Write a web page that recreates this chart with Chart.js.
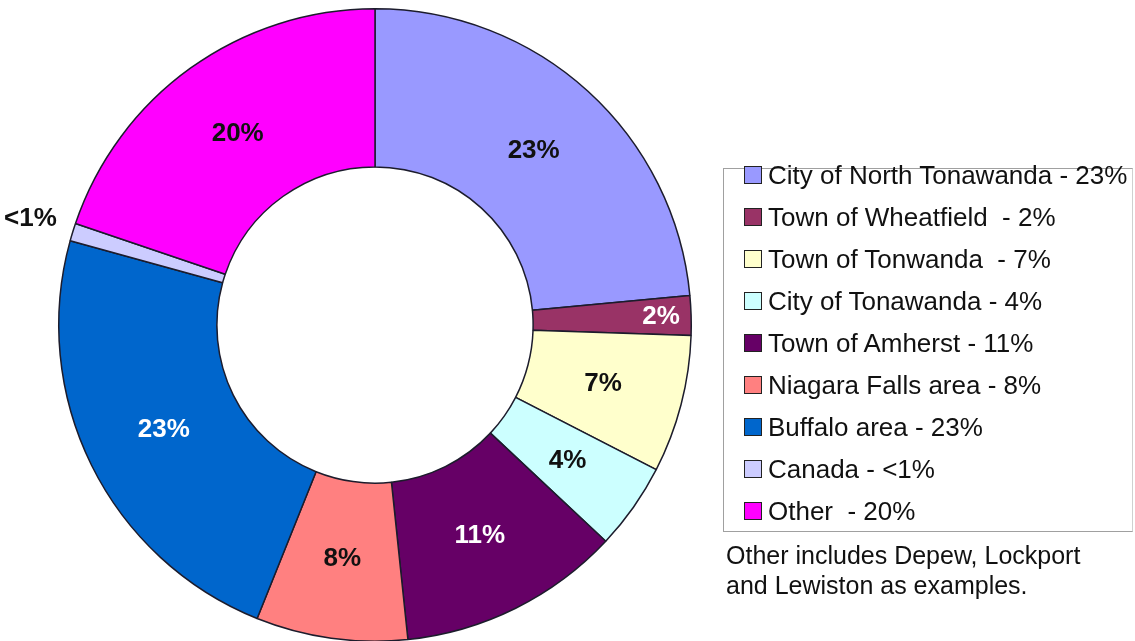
<!DOCTYPE html>
<html>
<head>
<meta charset="utf-8">
<title>Visitor origin</title>
<script src="https://cdn.jsdelivr.net/npm/chart.js@4/dist/chart.umd.min.js"></script>
<style>
  body { margin: 0; background: #fff; font-family: "Liberation Sans", Arial, sans-serif; }
  #wrap { position: absolute; left: 0; top: 8px; width: 750px; height: 634px; }
  #legend {
    position: absolute; left: 723px; top: 168px; width: 410px; height: 364px;
    border: 1px solid #a0a0a0; border-right-color: #d0d0d0; box-sizing: border-box;
  }
  .item { height: 42px; display: flex; align-items: center; white-space: pre;
          font-size: 26px; color: #111; }
  .item:first-child { margin-top: -15px; }
  .box { width: 16px; height: 16px; border: 1px solid #222; margin-left: 20px; margin-right: 6px; }
  #note { position: absolute; left: 726px; top: 540px; font-size: 25px; line-height: 30px; color: #111; }
</style>
</head>
<body>
<div id="wrap"><canvas id="myChart"></canvas></div>
<div id="legend"></div>
<div id="note">Other includes Depew, Lockport<br>and Lewiston as examples.</div>

<script>
var places = ['City of North Tonawanda', 'Town of Wheatfield ', 'Town of Tonwanda ', 'City of Tonawanda',
              'Town of Amherst', 'Niagara Falls area', 'Buffalo area', 'Canada', 'Other '];
var shares = [23.4, 2.0, 7.0, 4.4, 11.3, 7.7, 23.1, 0.9, 19.7];

var sliceColors = ['#9999FF', '#993366', '#FFFFCC', '#CCFFFF', '#660066',
                   '#FF8080', '#0066CC', '#CCCCFF', '#FF00FF'];
var textColors  = ['#111', '#fff', '#111', '#111', '#fff', '#111', '#fff', '#111', '#111'];
// where each label sits, as a fraction of the outer radius
var labelRadius = [0.745, 0.905, 0.745, 0.745, 0.745, 0.745, 0.745, 1.14, 0.745];

function pct(v) {
  return v < 1 ? '<1%' : Math.round(v) + '%';
}

var sliceLabels = {
  id: 'sliceLabels',
  afterDatasetsDraw: function(chart) {
    var ctx = chart.ctx;
    var arcs = chart.getDatasetMeta(0).data;
    ctx.save();
    ctx.font = 'bold 26px "Liberation Sans", Arial, sans-serif';
    ctx.textAlign = 'center';
    ctx.textBaseline = 'middle';
    arcs.forEach(function(arc, i) {
      var mid = (arc.startAngle + arc.endAngle) / 2;
      var r = arc.outerRadius * labelRadius[i];
      ctx.fillStyle = textColors[i];
      ctx.fillText(pct(shares[i]), arc.x + Math.cos(mid) * r, arc.y + Math.sin(mid) * r);
    });
    ctx.restore();
  }
};

function chart1(){
  var ctx = document.getElementById('myChart');

  new Chart(ctx, {
    type: 'doughnut',
    data: {
      labels: places,
      datasets: [{
        data: shares,
        backgroundColor: sliceColors,
        borderColor: '#1c1c2c',
        borderWidth: 1.5
      }]
    },
    options: {
      cutout: '50%',
      animation: false,
      maintainAspectRatio: false,
      responsive: true,
      plugins: {
        legend: { display: false },
        tooltip: { enabled: false }
      }
    },
    plugins: [sliceLabels]
  });
}

function legend(){
  var el = document.getElementById('legend');
  places.forEach(function(name, i) {
    var row = document.createElement('div');
    row.className = 'item';
    var box = document.createElement('span');
    box.className = 'box';
    box.style.background = sliceColors[i];
    row.appendChild(box);
    row.appendChild(document.createTextNode(name + ' - ' + pct(shares[i])));
    el.appendChild(row);
  });
}

window.onload = function(){
  chart1();
  legend();
};
</script>
</body>
</html>
